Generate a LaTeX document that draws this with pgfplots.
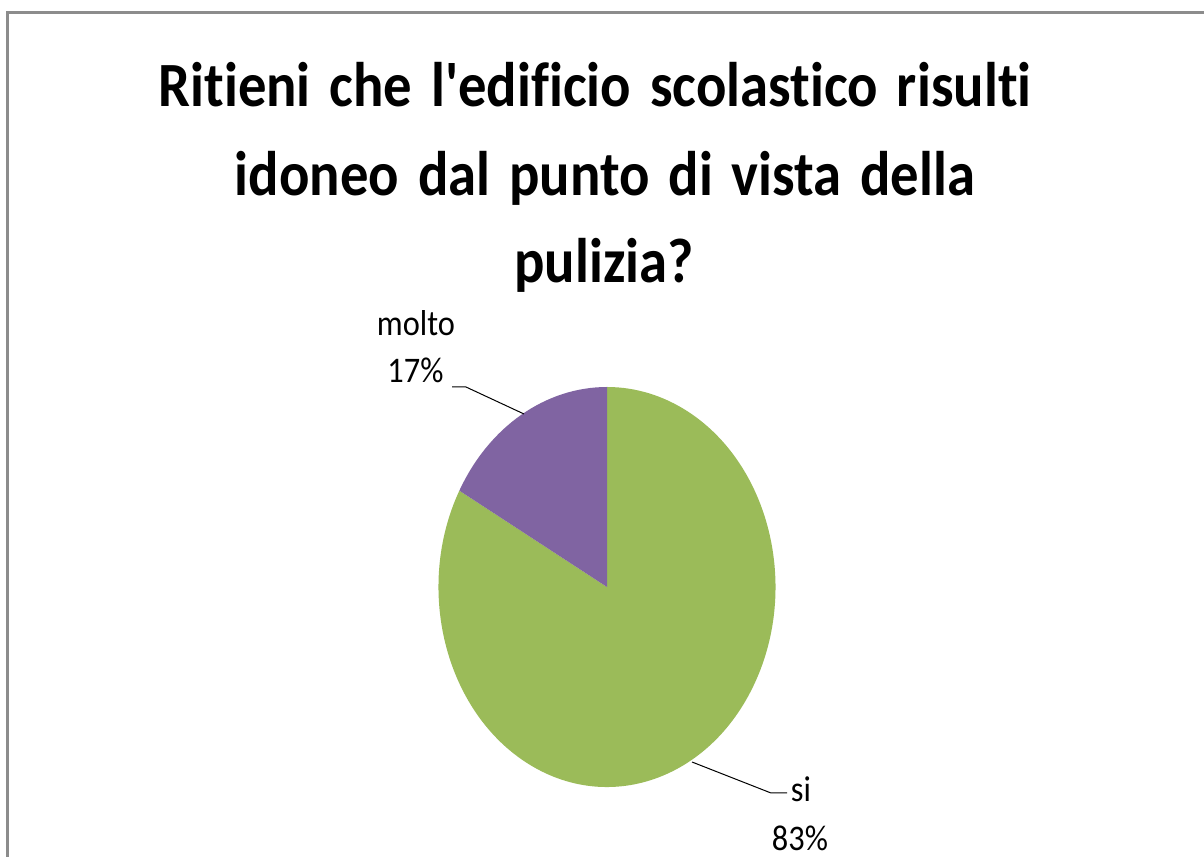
\documentclass[border=0pt]{standalone}
\usepackage{fontspec}
\newfontfamily\calib{Carlito}[FakeStretch=0.9, Ligatures={NoCommon}]
\newcommand\titlefont{\calib\fontsize{63bp}{88bp}\selectfont\bfseries\spaceskip=\fontdimen2\font\advance\spaceskip by 6bp\relax}
\newcommand\labelfont{\calib\fontsize{36bp}{47bp}\selectfont}
\usepackage{pgfplots}
\usepackage{pgfplotstable}
\pgfplotsset{compat=1.18}
\definecolor{sigreen}{HTML}{9BBB59}
\definecolor{moltopurple}{HTML}{8064A2}
\definecolor{framegray}{HTML}{8C8C8C}
\pgfplotstableread{
cat value
si 83
molto 17
}\piedata
\begin{document}
\begin{tikzpicture}
\pgfplotstablegetelem{0}{value}\of\piedata\let\vsi\pgfplotsretval
\pgfplotstablegetelem{1}{value}\of\piedata\let\vmolto\pgfplotsretval
\pgfmathsetmacro{\amolto}{90+3.6*\vmolto}
\begin{axis}[
  width=1204bp, height=857bp, scale only axis,
  xmin=0, xmax=1204, ymin=0, ymax=857,
  axis lines=none, ticks=none, clip=true,
]
\fill[white] (axis cs:0,0) rectangle (axis cs:1204,857);
% frame
\draw[framegray, line width=3bp] (axis cs:7.5,0) -- (axis cs:7.5,844.5) -- (axis cs:1204,844.5);
% pie slices
\fill[sigreen] (axis cs:607,270) -- ++(\amolto:168.5bp and 200bp) arc[start angle=\amolto, end angle=450, x radius=168.5bp, y radius=200bp] -- cycle;
\fill[moltopurple] (axis cs:607,270) -- ++(90:168.5bp and 200bp) arc[start angle=90, end angle=\amolto, x radius=168.5bp, y radius=200bp] -- cycle;
% leader lines
\draw[black, line width=1bp] (axis cs:452,470) -- (axis cs:466,470) -- (axis cs:524,443);
\draw[black, line width=1bp] (axis cs:692,95) -- (axis cs:771,64) -- (axis cs:787,64);
% title
\node[anchor=base, inner sep=0pt, font=\titlefont] at (axis cs:595,750) {Ritieni che l'edificio scolastico risulti};
\node[anchor=base, inner sep=0pt, font=\titlefont] at (axis cs:605,661) {idoneo dal punto di vista della};
\node[anchor=base, inner sep=0pt, font=\titlefont] at (axis cs:604,574) {pulizia?};
% data labels
\node[anchor=base, inner sep=0pt, font=\labelfont] at (axis cs:416,521) {molto};
\node[anchor=base, inner sep=0pt, font=\labelfont] at (axis cs:415.5,474) {\vmolto\%};
\node[anchor=base, inner sep=0pt, font=\labelfont] at (axis cs:801,55) {si};
\node[anchor=base, inner sep=0pt, font=\labelfont] at (axis cs:800,7) {\vsi\%};
\end{axis}
\pgfresetboundingbox
\useasboundingbox (0,0) rectangle (1204bp,857bp);
\end{tikzpicture}
\end{document}
